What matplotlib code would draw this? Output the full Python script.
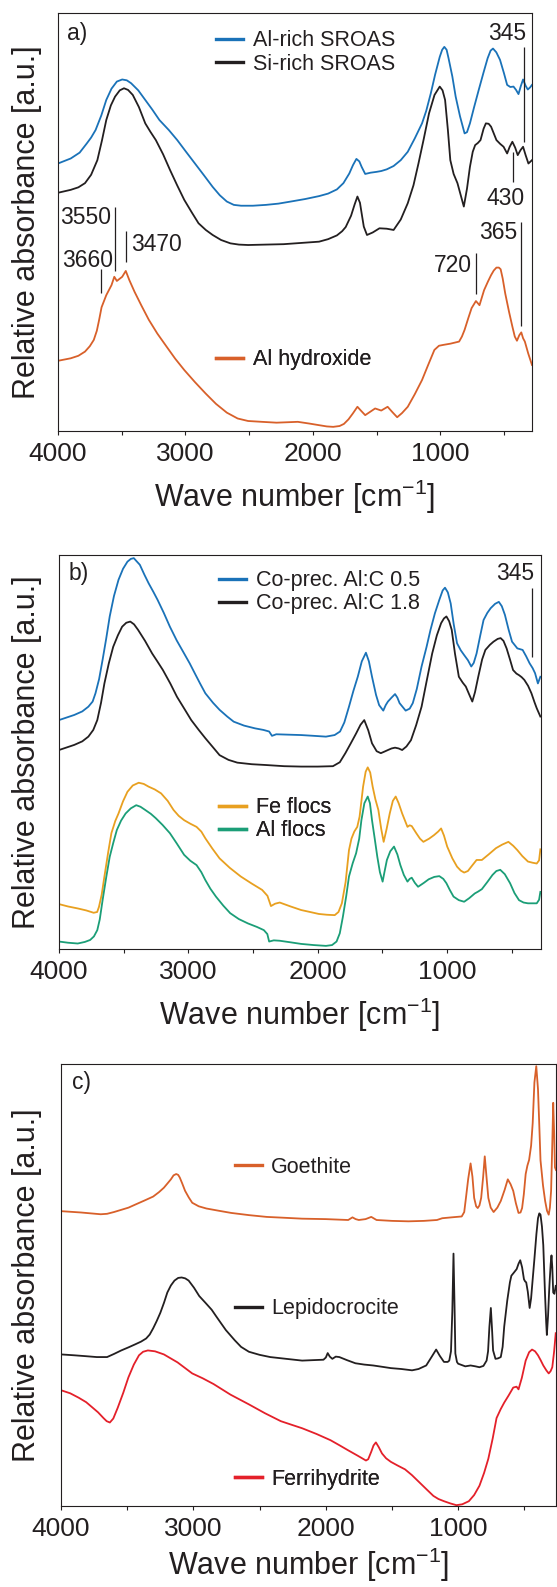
import matplotlib
matplotlib.use("Agg")
import matplotlib.pyplot as plt
from matplotlib.lines import Line2D
from matplotlib.ticker import MultipleLocator

plt.rcParams["font.family"] = ["Liberation Sans", "DejaVu Sans"]
plt.rcParams["mathtext.fontset"] = "custom"
plt.rcParams["mathtext.rm"] = "Liberation Sans"
plt.rcParams["mathtext.it"] = "Liberation Sans"

INK = "#231f20"
BLUE = "#1a72b8"
BLACK = "#231f20"
ORANGE = "#d8602a"
GOLD = "#e8a020"
GREEN = "#1b9e77"
RED = "#e4202a"

# ---- panel a: SROAS + Al hydroxide (wave number, relative absorbance 0-100)
a_alrich_wn = [4000, 3900, 3830, 3774, 3740, 3705, 3660, 3621, 3580, 3538,
               3496, 3460, 3426, 3370, 3315, 3260, 3204, 3130, 3064, 2995,
               2925, 2855, 2786, 2730, 2675, 2620, 2563, 2470, 2368, 2270,
               2173, 2060, 1951, 1880, 1811, 1760, 1714, 1685, 1658, 1635,
               1617, 1589, 1547, 1500, 1463, 1420, 1366, 1310, 1255, 1200,
               1143, 1110, 1074, 1040, 1004, 985, 968, 950, 935, 905,
               879, 845, 809, 790, 767, 735, 698, 660, 628, 605,
               586, 560, 531, 500, 475, 450, 425, 405, 386, 368,
               350, 330, 313, 295, 280]
a_alrich = [64.0, 65.2, 66.6, 68.8, 70.2, 72.0, 75.5, 79.2, 81.9, 83.6,
            84.1, 83.9, 83.2, 81.5, 79.2, 76.9, 74.4, 72.0, 69.6, 66.8,
            64.0, 61.2, 58.4, 56.4, 54.9, 54.1, 53.9, 53.9, 54.1, 54.4,
            54.9, 55.5, 56.2, 56.8, 57.8, 59.3, 61.6, 63.6, 65.1, 64.5,
            63.2, 61.5, 61.8, 62.0, 62.2, 62.6, 63.4, 64.8, 66.8, 70.0,
            73.6, 76.6, 80.8, 85.3, 89.5, 91.2, 91.9, 91.2, 89.2, 84.8,
            80.0, 75.3, 71.2, 71.5, 73.6, 77.4, 81.6, 85.8, 89.2, 91.0,
            91.5, 90.6, 88.8, 85.6, 82.8, 82.3, 82.4, 81.6, 80.6, 82.5,
            84.1, 82.6, 81.7, 82.2, 82.8]

a_sirich_wn = [4000, 3900, 3840, 3788, 3740, 3691, 3655, 3621, 3585, 3552,
               3515, 3482, 3450, 3413, 3365, 3315, 3275, 3232, 3175, 3120,
               3065, 3009, 2950, 2897, 2840, 2786, 2720, 2647, 2580, 2508,
               2370, 2229, 2090, 1951, 1880, 1811, 1770, 1742, 1700, 1672,
               1650, 1630, 1617, 1600, 1575, 1530, 1477, 1420, 1366, 1310,
               1255, 1210, 1171, 1130, 1088, 1045, 1004, 982, 962, 940,
               921, 895, 865, 840, 815, 790, 767, 745, 726, 705,
               684, 660, 642, 620, 601, 580, 559, 530, 503, 475,
               455, 434, 412, 392, 370, 350, 330, 308, 280]
a_sirich = [57.0, 57.7, 58.3, 59.3, 61.3, 64.8, 69.5, 74.4, 77.9, 80.0,
            81.5, 82.0, 81.6, 80.4, 77.5, 73.6, 71.6, 69.6, 66.2, 62.4,
            58.8, 55.3, 52.3, 49.7, 48.1, 46.9, 45.7, 44.9, 44.6, 44.5,
            44.6, 44.7, 45.0, 45.3, 45.9, 46.8, 47.8, 48.8, 51.5, 54.2,
            56.1, 54.6, 52.1, 48.9, 46.9, 47.5, 48.5, 48.4, 48.1, 50.6,
            54.5, 58.8, 64.0, 69.8, 76.0, 80.4, 82.4, 81.5, 79.2, 72.0,
            64.8, 61.5, 59.3, 56.5, 53.7, 58.0, 63.2, 66.8, 68.4, 68.9,
            69.6, 72.3, 73.6, 73.5, 72.8, 71.2, 69.6, 68.7, 68.0, 66.4,
            68.0, 69.2, 67.8, 66.0, 67.2, 68.0, 66.0, 64.0, 64.8]

a_alhyd_wn = [4000, 3900, 3840, 3788, 3750, 3719, 3695, 3677, 3658, 3621,
              3580, 3558, 3538, 3496, 3468, 3440, 3399, 3345, 3287, 3220,
              3148, 3080, 3009, 2925, 2842, 2760, 2675, 2590, 2508, 2400,
              2285, 2200, 2118, 2030, 1951, 1890, 1840, 1790, 1756, 1720,
              1686, 1650, 1620, 1589, 1550, 1511, 1463, 1413, 1375, 1338,
              1300, 1255, 1200, 1143, 1095, 1046, 1010, 977, 920, 852,
              830, 809, 780, 754, 720, 692, 656, 625, 601, 580,
              559, 540, 526, 510, 490, 460, 434, 415, 398, 380,
              364, 350, 336, 310, 280]
a_alhyd = [16.8, 17.4, 18.0, 19.0, 20.3, 21.8, 24.0, 26.6, 29.6, 32.5,
           34.9, 36.9, 35.9, 36.9, 38.3, 36.1, 33.3, 30.0, 26.6, 23.3,
           20.2, 17.3, 14.6, 11.7, 9.0, 6.5, 4.4, 3.0, 2.4, 2.2,
           2.0, 2.1, 2.2, 1.8, 1.4, 1.1, 1.0, 1.2, 1.7, 2.8,
           4.2, 5.8, 4.8, 3.8, 4.6, 5.4, 4.9, 5.8, 4.5, 3.3,
           4.3, 5.8, 8.8, 12.2, 15.8, 19.4, 20.4, 20.6, 20.9, 21.4,
           22.6, 24.2, 27.0, 29.4, 31.1, 30.1, 33.7, 35.8, 37.3, 38.4,
           39.1, 39.1, 38.7, 36.5, 32.9, 28.5, 25.0, 22.6, 21.6, 22.9,
           23.6, 22.2, 21.4, 18.6, 15.8]

# band marks: position, line bottom/top, label, label x, label y
a_band_wn = [345, 430, 365, 720, 3660, 3550, 3470]
a_band_lo = [69.2, 59.6, 25.1, 32.8, 33.1, 38.3, 40.5]
a_band_hi = [91.9, 66.8, 50.1, 42.5, 38.7, 53.7, 47.9]
a_band_txt = ["345", "430", "365", "720", "3660", "3550", "3470"]
a_band_tx = [474, 489, 547, 903, 3770, 3782, 3224]
a_band_ty = [95.2, 55.7, 47.4, 39.7, 40.9, 51.1, 44.7]

# ---- panel b: co-precipitates and flocs
b_c05_wn = [4000, 3882, 3820, 3773, 3740, 3718, 3690, 3663, 3635, 3608,
            3575, 3540, 3505, 3471, 3445, 3422, 3400, 3375, 3340, 3307,
            3270, 3238, 3190, 3143, 3090, 3033, 2990, 2951, 2910, 2869,
            2810, 2759, 2700, 2650, 2570, 2485, 2420, 2376, 2354, 2321,
            2229, 2129, 2030, 1937, 1870, 1828, 1795, 1759, 1725, 1691,
            1660, 1628, 1605, 1581, 1550, 1526, 1494, 1475, 1458, 1430,
            1403, 1385, 1368, 1321, 1290, 1266, 1235, 1198, 1160, 1129,
            1095, 1061, 1035, 1017, 995, 973, 950, 924, 895, 869,
            840, 814, 795, 773, 745, 719, 690, 664, 630, 601,
            578, 554, 525, 499, 458, 417, 390, 363, 340, 321,
            299, 280]
b_c05 = [58.1, 59.4, 60.3, 61.5, 62.8, 64.9, 68.5, 73.4, 78.8, 84.4,
         89.6, 93.7, 96.5, 98.3, 99.0, 99.2, 98.4, 97.5, 95.0, 92.8,
         90.6, 88.6, 85.3, 81.8, 78.3, 75.0, 72.5, 70.0, 67.4, 64.9,
         62.5, 60.7, 59.0, 57.7, 56.7, 56.0, 55.6, 55.2, 54.1, 54.5,
         54.4, 54.3, 54.1, 53.9, 54.3, 55.2, 57.5, 61.5, 65.5, 69.1,
         73.0, 75.2, 73.0, 69.1, 64.5, 61.9, 60.5, 61.9, 62.8, 63.8,
         64.7, 63.8, 62.4, 60.5, 61.0, 62.4, 66.0, 71.7, 76.6, 81.0,
         85.2, 88.6, 91.0, 91.7, 90.5, 87.7, 82.5, 77.6, 75.8, 74.6,
         73.3, 71.7, 72.6, 75.0, 79.5, 83.5, 85.3, 86.5, 87.6, 88.1,
         87.0, 84.8, 81.0, 78.0, 76.3, 75.9, 74.3, 72.5, 71.3, 70.0,
         67.4, 69.1]

b_c18_wn = [4000, 3882, 3820, 3773, 3735, 3704, 3675, 3649, 3615, 3581,
            3545, 3512, 3480, 3449, 3420, 3389, 3335, 3280, 3240, 3197,
            3140, 3088, 3030, 2978, 2920, 2869, 2810, 2759, 2690, 2622,
            2510, 2403, 2260, 2129, 2000, 1883, 1830, 1787, 1745, 1704,
            1670, 1641, 1610, 1581, 1545, 1513, 1485, 1458, 1430, 1403,
            1375, 1348, 1315, 1280, 1240, 1198, 1160, 1116, 1080, 1047,
            1025, 1006, 985, 965, 940, 910, 880, 856, 830, 806,
            785, 760, 730, 705, 670, 642, 610, 587, 565, 541,
            515, 491, 465, 445, 425, 404, 375, 349, 325, 308, 280]
b_c18 = [50.5, 51.8, 52.7, 53.9, 55.6, 58.1, 62.5, 67.4, 72.5, 76.7,
         79.6, 81.8, 82.8, 83.1, 82.4, 81.0, 78.2, 75.0, 73.0, 70.8,
         67.4, 64.0, 60.9, 58.1, 55.6, 53.5, 51.2, 49.2, 48.0, 47.3,
         46.9, 46.7, 46.4, 46.3, 46.3, 46.4, 47.4, 49.7, 52.2, 54.7,
         56.9, 58.1, 55.5, 52.2, 50.2, 49.7, 50.1, 50.5, 50.9, 51.1,
         50.9, 50.5, 51.4, 53.0, 56.8, 61.5, 67.8, 75.0, 79.6, 82.7,
         83.9, 84.4, 83.2, 81.0, 75.0, 69.1, 67.6, 66.6, 64.6, 62.8,
         65.2, 69.1, 73.5, 75.9, 77.2, 78.0, 78.7, 78.9, 78.2, 76.3,
         73.5, 70.8, 69.9, 69.5, 69.0, 68.3, 66.8, 64.9, 62.6, 61.1, 59.0]

b_fe_wn = [4000, 3930, 3855, 3790, 3732, 3705, 3691, 3670, 3649, 3620,
           3595, 3565, 3540, 3505, 3471, 3430, 3384, 3345, 3307, 3260,
           3211, 3160, 3115, 3075, 3033, 2985, 2937, 2900, 2869, 2815,
           2759, 2680, 2595, 2510, 2430, 2389, 2362, 2330, 2294, 2210,
           2129, 2060, 1992, 1930, 1869, 1840, 1814, 1785, 1759, 1740,
           1718, 1695, 1677, 1650, 1630, 1614, 1595, 1576, 1555, 1532,
           1510, 1491, 1468, 1444, 1420, 1398, 1375, 1348, 1307, 1290,
           1274, 1239, 1210, 1184, 1140, 1102, 1070, 1047, 1025, 1000,
           960, 924, 895, 869, 840, 814, 773, 732, 680, 623,
           575, 527, 490, 458, 420, 376, 340, 308, 290, 280]
b_fe = [11.4, 10.8, 10.3, 9.8, 9.2, 9.4, 10.7, 13.8, 18.4, 24.5,
        29.4, 32.5, 34.4, 37.5, 39.9, 41.5, 42.2, 41.9, 41.2, 40.5,
        39.5, 37.6, 35.3, 33.8, 32.7, 31.8, 31.0, 29.8, 28.1, 25.5,
        23.0, 20.6, 18.4, 16.6, 15.0, 13.5, 10.9, 11.5, 11.8, 10.8,
        9.9, 9.4, 8.9, 8.7, 8.6, 9.4, 11.6, 17.0, 25.1, 28.0,
        29.8, 31.0, 33.6, 41.2, 45.0, 46.1, 44.8, 41.2, 38.0, 35.3,
        30.5, 27.2, 30.5, 34.4, 37.6, 38.7, 37.0, 34.4, 31.0, 31.4,
        31.2, 29.4, 28.0, 27.2, 28.0, 28.9, 29.8, 30.6, 28.8, 26.0,
        23.0, 20.9, 19.9, 19.4, 19.8, 20.9, 22.6, 22.6, 24.0, 25.6,
        26.5, 27.2, 26.2, 25.1, 23.6, 22.2, 21.9, 21.7, 22.5, 25.3]

b_al_wn = [4000, 3930, 3855, 3800, 3759, 3730, 3704, 3685, 3663, 3635,
           3608, 3580, 3553, 3520, 3485, 3445, 3403, 3370, 3334, 3290,
           3252, 3200, 3143, 3090, 3033, 2985, 2937, 2900, 2869, 2830,
           2787, 2730, 2677, 2610, 2540, 2470, 2417, 2390, 2376, 2340,
           2294, 2210, 2129, 2030, 1937, 1890, 1855, 1830, 1806, 1780,
           1759, 1730, 1704, 1680, 1663, 1640, 1614, 1597, 1581, 1560,
           1540, 1520, 1499, 1485, 1466, 1440, 1411, 1385, 1362, 1335,
           1307, 1290, 1274, 1250, 1225, 1180, 1143, 1100, 1061, 1030,
           1006, 980, 951, 910, 869, 830, 787, 760, 732, 690,
           650, 620, 590, 555, 514, 480, 445, 410, 376, 340,
           308, 290, 280]
b_al = [1.9, 1.6, 1.4, 1.8, 2.3, 3.2, 4.8, 7.5, 12.4, 18.2,
        23.4, 27.0, 30.2, 32.6, 34.4, 35.7, 36.5, 36.1, 35.3, 34.3,
        33.2, 31.5, 29.4, 26.8, 23.9, 22.4, 21.3, 19.5, 17.5, 15.3,
        13.3, 11.0, 9.1, 7.6, 6.5, 5.6, 4.8, 3.8, 1.9, 2.2,
        2.1, 1.7, 1.3, 1.0, 0.8, 1.0, 1.9, 4.0, 8.2, 13.5,
        18.4, 21.8, 24.3, 28.0, 32.7, 37.0, 38.7, 37.0, 32.7, 28.0,
        23.4, 19.5, 17.1, 19.5, 22.6, 24.8, 26.0, 24.0, 21.3, 18.8,
        17.1, 17.8, 18.1, 16.8, 15.8, 16.8, 17.7, 18.3, 18.5, 17.8,
        16.7, 15.0, 13.3, 12.4, 12.0, 12.9, 14.1, 14.6, 15.2, 17.0,
        18.8, 19.8, 20.1, 19.0, 16.7, 14.2, 12.4, 11.8, 11.6, 11.6,
        11.6, 12.5, 14.5]

b_band_wn = [345]
b_band_lo = [74.0]
b_band_hi = [91.5]
b_band_txt = ["345"]
b_band_tx = [474]
b_band_ty = [95.3]

# ---- panel c: iron oxides
c_goe_wn = [4000, 3850, 3700, 3652, 3600, 3545, 3490, 3438, 3370, 3304,
            3260, 3223, 3195, 3170, 3150, 3130, 3115, 3103, 3085, 3063,
            3035, 3009, 2960, 2902, 2810, 2715, 2580, 2447, 2310, 2179,
            2000, 1831, 1799, 1775, 1751, 1700, 1657, 1617, 1500, 1376,
            1260, 1161, 1121, 1050, 974, 955, 942, 925, 907, 893,
            880, 865, 853, 840, 827, 812, 800, 787, 773, 755,
            733, 705, 679, 650, 626, 605, 585, 565, 545, 530,
            518, 505, 491, 478, 465, 450, 438, 425, 411, 398,
            388, 379, 360, 344, 330, 317, 308, 299, 290, 283,
            276, 270, 262]
c_goe = [66.7, 66.4, 66.0, 66.1, 66.5, 67.0, 67.5, 68.2, 69.1, 70.0,
         71.0, 72.0, 73.0, 73.9, 74.8, 75.1, 74.9, 74.3, 73.0, 71.3,
         69.8, 68.6, 67.8, 67.3, 66.8, 66.3, 65.8, 65.4, 65.2, 65.0,
         64.9, 64.7, 65.3, 64.9, 64.7, 64.9, 65.4, 64.7, 64.5, 64.4,
         64.5, 64.7, 65.1, 65.3, 65.5, 66.5, 69.7, 74.0, 77.5, 74.5,
         69.7, 67.8, 67.4, 68.0, 69.7, 74.5, 79.1, 74.5, 69.7, 67.5,
         66.5, 67.5, 69.0, 71.5, 73.9, 72.8, 71.3, 68.5, 66.3, 66.4,
         67.4, 70.5, 75.1, 77.0, 78.3, 81.5, 86.6, 95.8, 99.5, 94.3,
         86.0, 78.2, 72.5, 69.0, 66.8, 65.9, 67.5, 71.3, 82.0, 91.2,
         84.5, 76.6, 76.0]

c_lep_wn = [4000, 3900, 3813, 3730, 3652, 3600, 3545, 3490, 3438, 3395,
            3357, 3330, 3304, 3278, 3250, 3222, 3197, 3170, 3143, 3115,
            3089, 3062, 3036, 2996, 2956, 2910, 2862, 2830, 2795, 2755,
            2720, 2688, 2640, 2581, 2500, 2420, 2300, 2179, 2100, 2018,
            2000, 1986, 1970, 1951, 1925, 1898, 1840, 1777, 1710, 1643,
            1575, 1509, 1430, 1349, 1300, 1242, 1200, 1167, 1140, 1108,
            1080, 1068, 1055, 1045, 1036, 1028, 1022, 1010, 1001, 947,
            907, 870, 840, 810, 786, 775, 765, 754, 745, 737,
            719, 700, 679, 665, 653, 630, 610, 599, 580, 559,
            545, 532, 518, 504, 495, 487, 475, 461, 450, 440,
            425, 410, 398, 388, 379, 368, 358, 345, 336, 331,
            322, 314, 309, 302, 296, 290, 283, 274, 264]
c_lep = [34.3, 34.1, 33.9, 33.7, 33.7, 34.4, 35.2, 35.9, 36.6, 37.2,
         37.9, 38.8, 40.2, 41.8, 43.7, 46.0, 48.3, 49.9, 51.0, 51.6,
         51.7, 51.5, 51.0, 49.4, 47.5, 46.0, 44.4, 43.0, 41.5, 39.8,
         38.6, 37.5, 36.0, 34.9, 34.2, 33.7, 33.3, 32.9, 33.0, 33.1,
         33.6, 34.6, 33.8, 33.3, 33.8, 33.7, 33.0, 32.3, 32.0, 31.8,
         31.5, 31.2, 31.0, 30.7, 31.0, 31.8, 33.8, 35.4, 34.0, 32.6,
         32.6, 32.9, 35.0, 44.0, 57.1, 45.0, 34.5, 32.6, 32.2, 31.6,
         31.8, 31.6, 31.4, 31.7, 32.9, 35.0, 40.5, 44.8, 40.0, 35.2,
         33.3, 33.4, 33.7, 36.0, 40.6, 46.5, 50.6, 52.1, 52.8, 53.6,
         54.8, 55.6, 54.0, 51.3, 50.8, 50.6, 48.5, 44.8, 47.0, 50.6,
         55.9, 61.5, 65.1, 66.2, 65.9, 63.2, 59.0, 48.0, 41.5, 38.7,
         43.0, 48.5, 51.3, 54.8, 56.7, 54.0, 48.3, 48.0, 49.8]

c_fh_wn = [4000, 3930, 3866, 3810, 3759, 3720, 3679, 3655, 3631, 3605,
           3572, 3530, 3491, 3450, 3411, 3380, 3344, 3290, 3223, 3120,
           3009, 2930, 2848, 2720, 2581, 2460, 2340, 2260, 2179, 2070,
           1965, 1900, 1831, 1760, 1697, 1680, 1657, 1640, 1622, 1600,
           1576, 1545, 1509, 1460, 1402, 1350, 1295, 1240, 1188, 1150,
           1108, 1060, 1014, 970, 920, 880, 840, 805, 773, 740,
           711, 680, 653, 620, 585, 560, 545, 520, 491, 465,
           443, 420, 398, 378, 358, 335, 317, 303, 290, 276, 264]
c_fh = [26.2, 25.5, 24.5, 23.5, 22.2, 21.2, 19.9, 19.2, 18.9, 19.8,
        22.2, 25.6, 29.1, 32.0, 34.1, 34.9, 35.2, 35.0, 34.3, 32.5,
        30.0, 28.9, 27.6, 25.2, 23.0, 21.0, 19.2, 18.4, 17.6, 16.3,
        14.9, 13.8, 12.6, 11.4, 10.3, 10.6, 12.3, 13.7, 14.4, 13.3,
        11.9, 10.8, 10.0, 9.2, 8.3, 7.0, 5.4, 3.8, 2.3, 1.6,
        1.1, 0.6, 0.2, 0.4, 1.1, 2.5, 4.6, 7.5, 10.7, 15.3,
        19.9, 21.9, 23.4, 25.0, 26.8, 27.0, 26.4, 29.0, 32.9, 34.8,
        35.4, 35.0, 34.1, 33.0, 31.8, 30.7, 30.0, 30.5, 31.4, 35.0, 39.1]


def style_axes(ax, xmax, ylab_x, xpad=8):
    ax.set_xlim(4000, xmax)
    ax.set_ylim(0, 100)
    ax.set_yticks([])
    ax.xaxis.set_major_locator(MultipleLocator(1000))
    ax.xaxis.set_minor_locator(MultipleLocator(500))
    ax.tick_params(axis="x", which="both", direction="out", length=3,
                   width=0.8, color=INK, labelsize=19, labelcolor=INK, pad=5)
    for s in ax.spines.values():
        s.set_linewidth(0.8)
        s.set_color(INK)
    ax.set_xlabel("Wave number [cm$^{-1}$]", fontsize=22, color=INK,
                  labelpad=xpad)
    ax.set_ylabel("Relative absorbance [a.u.]", fontsize=22, color=INK)
    ax.yaxis.set_label_coords(ylab_x, 0.5)


def add_legend(ax, names, colors, x, y):
    handles = [Line2D([], [], color=c, lw=2.4) for c in colors]
    leg = ax.legend(handles, names, loc="center left", bbox_to_anchor=(x, y),
                    frameon=False, fontsize=15.5, handlelength=1.25,
                    handletextpad=0.45, labelspacing=0.1, borderpad=0,
                    borderaxespad=0, labelcolor=INK)
    ax.add_artist(leg)


def add_bands(ax, wn, lo, hi, txt, tx, ty):
    ax.vlines(wn, lo, hi, color=INK, lw=0.9)
    for t, x, y in zip(txt, tx, ty):
        ax.text(x, y, t, fontsize=16.5, color=INK, ha="center", va="center")


fig = plt.figure(figsize=(5.57, 15.87), dpi=100)
ax_a = fig.add_axes([0.1041, 0.7284, 0.8510, 0.2634])
ax_b = fig.add_axes([0.1059, 0.4020, 0.8654, 0.2483])
ax_c = fig.add_axes([0.1095, 0.0510, 0.8887, 0.2786])

lw = 1.3
# a)
ax_a.plot(a_alrich_wn, a_alrich, color=BLUE, lw=lw)
ax_a.plot(a_sirich_wn, a_sirich, color=BLACK, lw=lw)
ax_a.plot(a_alhyd_wn, a_alhyd, color=ORANGE, lw=lw)
add_bands(ax_a, a_band_wn, a_band_lo, a_band_hi, a_band_txt, a_band_tx, a_band_ty)
add_legend(ax_a, ["Al-rich SROAS", "Si-rich SROAS"], [BLUE, BLACK], 0.334, 0.9055)
add_legend(ax_a, ["Al hydroxide"], [ORANGE], 0.334, 0.170)
ax_a.text(0.02, 0.952, "a)", transform=ax_a.transAxes, fontsize=16.5,
          color=INK, va="center")
style_axes(ax_a, 280, -0.034)

# b)
ax_b.plot(b_c05_wn, b_c05, color=BLUE, lw=lw)
ax_b.plot(b_c18_wn, b_c18, color=BLACK, lw=lw)
ax_b.plot(b_fe_wn, b_fe, color=GOLD, lw=lw)
ax_b.plot(b_al_wn, b_al, color=GREEN, lw=lw)
add_bands(ax_b, b_band_wn, b_band_lo, b_band_hi, b_band_txt, b_band_tx, b_band_ty)
add_legend(ax_b, ["Co-prec. Al:C 0.5", "Co-prec. Al:C 1.8"], [BLUE, BLACK],
           0.332, 0.9055)
add_legend(ax_b, ["Fe flocs", "Al flocs"], [GOLD, GREEN], 0.332, 0.3295)
ax_b.text(0.02, 0.954, "b)", transform=ax_b.transAxes, fontsize=16.5,
          color=INK, va="center")
style_axes(ax_b, 275, -0.035)

# c)
ax_c.plot(c_goe_wn, c_goe, color=ORANGE, lw=lw)
ax_c.plot(c_lep_wn, c_lep, color=BLACK, lw=lw)
ax_c.plot(c_fh_wn, c_fh, color=RED, lw=lw)
add_legend(ax_c, ["Goethite"], [ORANGE], 0.351, 0.766)
add_legend(ax_c, ["Lepidocrocite"], [BLACK], 0.351, 0.446)
add_legend(ax_c, ["Ferrihydrite"], [RED], 0.351, 0.061)
ax_c.text(0.022, 0.958, "c)", transform=ax_c.transAxes, fontsize=16.5,
          color=INK, va="center")
style_axes(ax_c, 262, -0.038, xpad=3)

fig.savefig("out.png", dpi=100)
